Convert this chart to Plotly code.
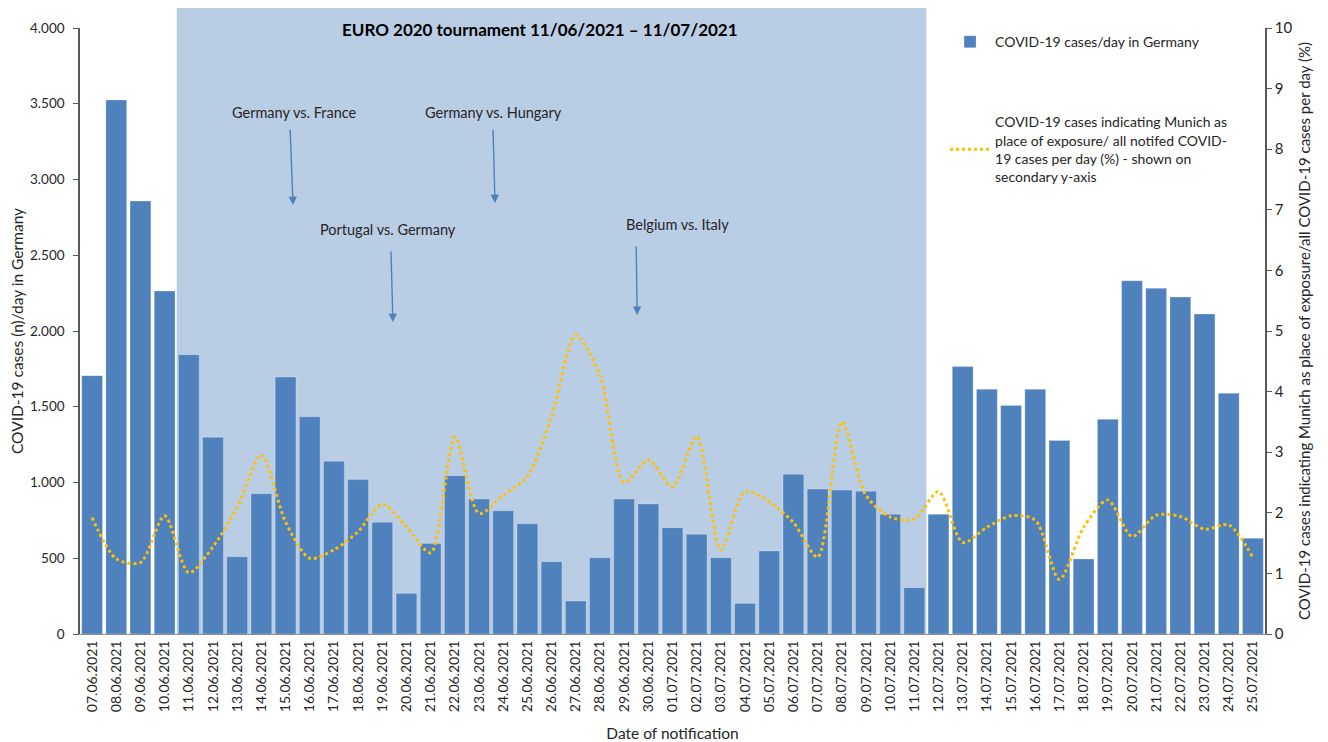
import plotly.graph_objects as go

dates = ["07.06.2021","08.06.2021","09.06.2021","10.06.2021","11.06.2021","12.06.2021","13.06.2021",
         "14.06.2021","15.06.2021","16.06.2021","17.06.2021","18.06.2021","19.06.2021","20.06.2021",
         "21.06.2021","22.06.2021","23.06.2021","24.06.2021","25.06.2021","26.06.2021","27.06.2021",
         "28.06.2021","29.06.2021","30.06.2021","01.07.2021","02.07.2021","03.07.2021","04.07.2021",
         "05.07.2021","06.07.2021","07.07.2021","08.07.2021","09.07.2021","10.07.2021","11.07.2021",
         "12.07.2021","13.07.2021","14.07.2021","15.07.2021","16.07.2021","17.07.2021","18.07.2021",
         "19.07.2021","20.07.2021","21.07.2021","22.07.2021","23.07.2021","24.07.2021","25.07.2021"]

cases_germany = [1705, 3525, 2858, 2264, 1844, 1298, 510, 926, 1696, 1434, 1140, 1019, 737, 268,
                 598, 1045, 891, 814, 728, 477, 218, 504, 891, 858, 702, 658, 504, 202,
                 548, 1054, 957, 950, 942, 790, 306, 790, 1765, 1615, 1509, 1615, 1278, 495,
                 1417, 2332, 2282, 2224, 2112, 1589, 632]

munich_share = [1.92, 1.24, 1.18, 1.95, 1.01, 1.44, 2.09, 2.95, 1.85, 1.25, 1.39, 1.69, 2.14, 1.77,
                1.34, 3.25, 1.99, 2.29, 2.60, 3.59, 4.93, 4.27, 2.50, 2.87, 2.43, 3.26, 1.39, 2.35,
                2.18, 1.84, 1.27, 3.50, 2.29, 1.93, 1.90, 2.35, 1.51, 1.76, 1.95, 1.88, 0.90, 1.76,
                2.21, 1.61, 1.96, 1.94, 1.73, 1.80, 1.26]

left_ticks = [0, 500, 1000, 1500, 2000, 2500, 3000, 3500, 4000]
left_ticktext = ["0", "500", "1.000", "1.500", "2.000", "2.500", "3.000", "3.500", "4.000"]

matches = ["Germany vs. France", "Germany vs. Hungary", "Portugal vs. Germany", "Belgium vs. Italy"]

FONT = "Lato"
TXT = "#262626"

fig = go.Figure()
fig.add_trace(go.Bar(
    x=dates, y=cases_germany, name="COVID-19 cases/day in Germany",
    marker=dict(color="#4F81BD", line=dict(color="rgba(255,255,255,0.5)", width=0.5)),
    legendgroup="a", yaxis="y"))
fig.add_trace(go.Scatter(
    x=dates, y=munich_share,
    name="COVID-19 cases indicating Munich as<br>place of exposure/ all notifed COVID-<br>19 cases per day (%) - shown on<br>secondary y-axis",
    mode="lines", line=dict(color="#FFC000", width=3, dash="dot", shape="spline", smoothing=0.8),
    legendgroup="b", yaxis="y2"))

# shaded tournament period
fig.add_shape(type="rect", xref="x", yref="paper", x0=3.5, x1=34.5, y0=0, y1=1.033,
              fillcolor="#B9CDE5", line=dict(width=0), layer="below")

annos = [
    dict(text="<b>EURO 2020 tournament 11/06/2021 – 11/07/2021</b>", xref="paper", yref="paper",
         x=0.388, y=0.997, showarrow=False, font=dict(size=17, color="#000000", family=FONT),
         xanchor="center", yanchor="middle"),
]
# match labels (x in category index, y in primary-axis units)
label_pos = [(8.35, 3439), (16.58, 3439), (12.24, 2667), (24.19, 2700)]
arrow_pos = [(8.31, 2832, -3, -77), (16.66, 2845, -2, -75), (12.44, 2059, -2, -72), (22.54, 2106, -1, -70)]
for m, (lx, ly), (tx, ty, ax, ay) in zip(matches, label_pos, arrow_pos):
    annos.append(dict(text=m, x=lx, y=ly, xref="x", yref="y", showarrow=False,
                      font=dict(size=14.5, color=TXT, family=FONT), xanchor="center", yanchor="middle"))
    annos.append(dict(text="", x=tx, y=ty, xref="x", yref="y", ax=ax, ay=ay, showarrow=True,
                      arrowhead=2, arrowsize=1.2, arrowwidth=1.4, arrowcolor="#4F81BD"))

fig.update_layout(
    width=1320, height=734,
    margin=dict(l=72, r=63, t=20, b=108, autoexpand=False),
    paper_bgcolor="white", plot_bgcolor="white",
    font=dict(family=FONT, size=14, color=TXT),
    bargap=0.14,
    annotations=annos,
    showlegend=True,
    legend=dict(x=0.730, y=1.003, xanchor="left", yanchor="top", bgcolor="rgba(0,0,0,0)",
                traceorder="grouped", tracegroupgap=59, font=dict(size=14, family=FONT, color=TXT),
                itemwidth=40),
    xaxis=dict(type="category", tickangle=-90, showline=True, linecolor="#8C8C8C", linewidth=1,
               ticks="", showgrid=False, tickfont=dict(size=14), automargin=False,
               title=dict(text="Date of notification", font=dict(size=15.5), standoff=16),
               range=[-0.5, 48.5]),
    yaxis=dict(range=[0, 4000], tickvals=left_ticks, ticktext=left_ticktext, showgrid=False,
               showline=True, linecolor="#595959", linewidth=1.5, ticks="outside", ticklen=5,
               tickcolor="#595959", zeroline=False, tickfont=dict(size=13.5), ticklabelstandoff=6,
               automargin=False,
               title=dict(text="COVID-19 cases (n)/day in Germany", font=dict(size=15.5), standoff=8)),
    yaxis2=dict(range=[0, 10], dtick=1, overlaying="y", side="right", showgrid=False,
                showline=True, linecolor="#595959", linewidth=1.5, ticks="outside", ticklen=5,
                tickcolor="#595959", zeroline=False, tickfont=dict(size=15), automargin=False,
                title=dict(text="COVID-19 cases indicating Munich as place of exposure/all COVID-19 cases per day (%)",
                           font=dict(size=15), standoff=8)),
)

fig.write_html("out.html")
